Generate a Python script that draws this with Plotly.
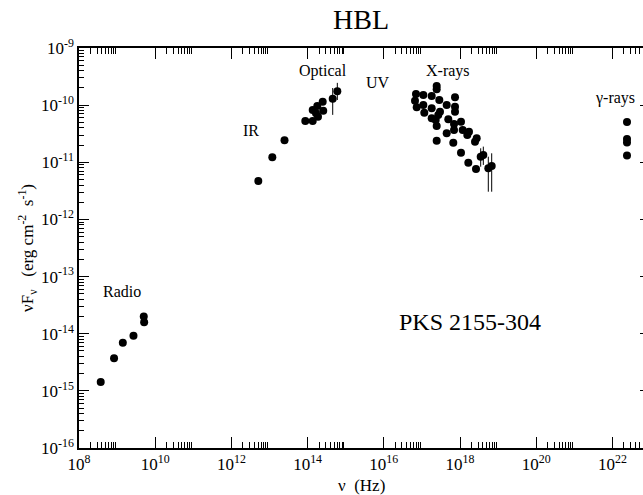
import numpy as np
import plotly.graph_objects as go

# ---- data (log10 nu [Hz], log10 nuFnu [erg cm^-2 s^-1]) ----
radio_lognu = [8.57, 8.92, 9.15, 9.43, 9.70, 9.71]
radio_logf = [-14.845, -14.43, -14.16, -14.035, -13.70, -13.80]

ir_opt_lognu = [12.706, 13.074, 13.394, 13.94, 14.134, 14.134, 14.255, 14.273, 14.396, 14.41, 14.22]
ir_opt_logf = [-11.328, -10.913, -10.615, -10.278, -10.278, -10.085, -10.015, -10.202, -9.94, -10.10, -10.14]

opt_err_lognu = [14.659, 14.78]
opt_err_logf = [-9.887, -9.758]
opt_err_hi = [-9.70, -9.61]
opt_err_lo = [-10.17, -9.91]

xray_lognu = [17.388, 17.388, 16.845, 17.037, 17.257, 17.457, 17.869, 16.819, 17.037, 17.257,
              17.475, 17.651, 17.869, 17.869, 16.864, 17.063, 17.257, 17.430, 17.362, 17.693,
              17.843, 18.026, 17.388, 17.843, 18.071, 18.236, 17.651, 18.192, 17.388, 17.824,
              18.438, 18.394, 18.026, 18.218, 18.420]
xray_logf = [-9.665, -9.723, -9.805, -9.823, -9.840, -9.910, -9.863, -9.922, -9.998, -10.055,
             -10.115, -9.998, -10.027, -10.115, -10.038, -10.132, -10.230, -10.173, -10.260, -10.248,
             -10.330, -10.290, -10.365, -10.435, -10.435, -10.465, -10.493, -10.523, -10.622, -10.657,
             -10.580, -10.640, -10.832, -11.007, -11.118]

xerr_lognu = [18.543, 18.612, 18.743, 18.832]
xerr_logf = [-10.902, -10.873, -11.105, -11.065]
xerr_hi = [-10.755, -10.726, -10.902, -10.843]
xerr_lo = [-11.077, -11.046, -11.515, -11.515]

gamma_lognu = [22.383, 22.383, 22.383, 22.383]
gamma_logf = [-10.295, -10.593, -10.654, -10.881]

x_major_exp = [8, 10, 12, 14, 16, 18, 20, 22]
y_major_exp = [-16, -15, -14, -13, -12, -11, -10, -9]

FONT = "Times New Roman, Liberation Serif, Times, serif"

def lin(a):
    return [10.0 ** v for v in a]

marker = dict(color="black", size=8, symbol="circle")

fig = go.Figure()

pts_x = radio_lognu + ir_opt_lognu + xray_lognu + gamma_lognu
pts_y = radio_logf + ir_opt_logf + xray_logf + gamma_logf
fig.add_trace(go.Scatter(x=lin(pts_x), y=lin(pts_y), mode="markers", marker=marker,
                         showlegend=False, hoverinfo="skip"))

err_x = opt_err_lognu + xerr_lognu
err_y = opt_err_logf + xerr_logf
err_hi = opt_err_hi + xerr_hi
err_lo = opt_err_lo + xerr_lo
yv = lin(err_y)
plus = [10.0 ** h - v for h, v in zip(err_hi, yv)]
minus = [v - 10.0 ** l for l, v in zip(err_lo, yv)]
fig.add_trace(go.Scatter(x=lin(err_x), y=yv, mode="markers", marker=marker,
                         error_y=dict(type="data", symmetric=False, array=plus, arrayminus=minus,
                                      color="black", thickness=1, width=0),
                         showlegend=False, hoverinfo="skip"))

# empty trace to create right-hand tick axis
fig.add_trace(go.Scatter(x=[], y=[], yaxis="y2", showlegend=False, hoverinfo="skip"))

x_minor = [m * 10.0 ** e for e in x_major_exp for m in range(2, 10)]
y_minor = [m * 10.0 ** e for e in y_major_exp[:-1] for m in range(2, 10)]

W, H = 643, 495
L, T, B, R = 79, 48, 47, 0
pw = W - L - R
xmax = 8 + pw / 38.1

fig.update_layout(
    width=W, height=H,
    margin=dict(l=L, r=R, t=T, b=B),
    paper_bgcolor="white", plot_bgcolor="white",
    font=dict(family=FONT, color="black", size=16),
    xaxis=dict(type="log", range=[8, xmax], showgrid=False, zeroline=False,
               showline=True, linecolor="black", linewidth=1.5, mirror="ticks",
               ticks="inside", ticklen=11, tickwidth=1.2, tickcolor="black",
               tickmode="array", tickvals=[10.0 ** e for e in x_major_exp],
               ticktext=[f"10<sup>{e}</sup>" for e in x_major_exp],
               tickfont=dict(family=FONT, size=17),
               minor=dict(tickmode="array", tickvals=x_minor, ticks="inside", ticklen=6,
                          tickwidth=1, tickcolor="black", showgrid=False)),
    yaxis=dict(type="log", range=[-16, -9], showgrid=False, zeroline=False,
               showline=True, linecolor="black", linewidth=1.5, mirror=False,
               ticks="inside", ticklen=10, tickwidth=1.2, tickcolor="black",
               tickmode="array", tickvals=[10.0 ** e for e in y_major_exp],
               ticktext=[f"10<sup>{e}</sup>" for e in y_major_exp],
               tickfont=dict(family=FONT, size=17),
               minor=dict(tickmode="array", tickvals=y_minor, ticks="inside", ticklen=5,
                          tickwidth=1, tickcolor="black", showgrid=False)),
    yaxis2=dict(type="log", range=[-16, -9], overlaying="y", side="right", showgrid=False,
                zeroline=False, showline=False, showticklabels=False,
                ticks="inside", ticklen=3, tickwidth=1.2, tickcolor="black",
                tickmode="array", tickvals=[10.0 ** e for e in y_major_exp]),
    title=dict(text="HBL", x=0.5, xref="paper", xanchor="center",
               y=1 - 19 / H, yref="container", yanchor="middle",
               font=dict(family=FONT, size=28, color="black")),
)

def ann(x, y, text, size=16, **kw):
    fig.add_annotation(x=x, y=y, xref="x", yref="y", text=text, showarrow=False,
                       font=dict(family=FONT, size=size, color="black"),
                       xanchor="center", yanchor="middle", **kw)

ann(9.12, -13.26, "Radio")
ann(12.51, -10.45, "IR")
ann(14.40, -9.40, "Optical")
ann(15.85, -9.61, "UV")
ann(17.69, -9.40, "X-rays")
ann(22.07, -9.875, "γ-rays")
ann(18.26, -13.80, "PKS 2155-304", size=24)

fig.add_annotation(x=0.5, y=-(485 - (H - B)) / (H - T - B), xref="paper", yref="paper",
                   text="ν  (Hz)", showarrow=False, xanchor="center", yanchor="middle",
                   font=dict(family=FONT, size=17, color="black"))
fig.add_annotation(x=(27 - L) / pw, y=0.5, xref="paper", yref="paper",
                   text="νF<sub>ν</sub>   (erg cm<sup>-2</sup>  s<sup>-1</sup>)",
                   textangle=-90, showarrow=False, xanchor="center", yanchor="middle",
                   font=dict(family=FONT, size=17, color="black"))

fig.write_html("out.html")
